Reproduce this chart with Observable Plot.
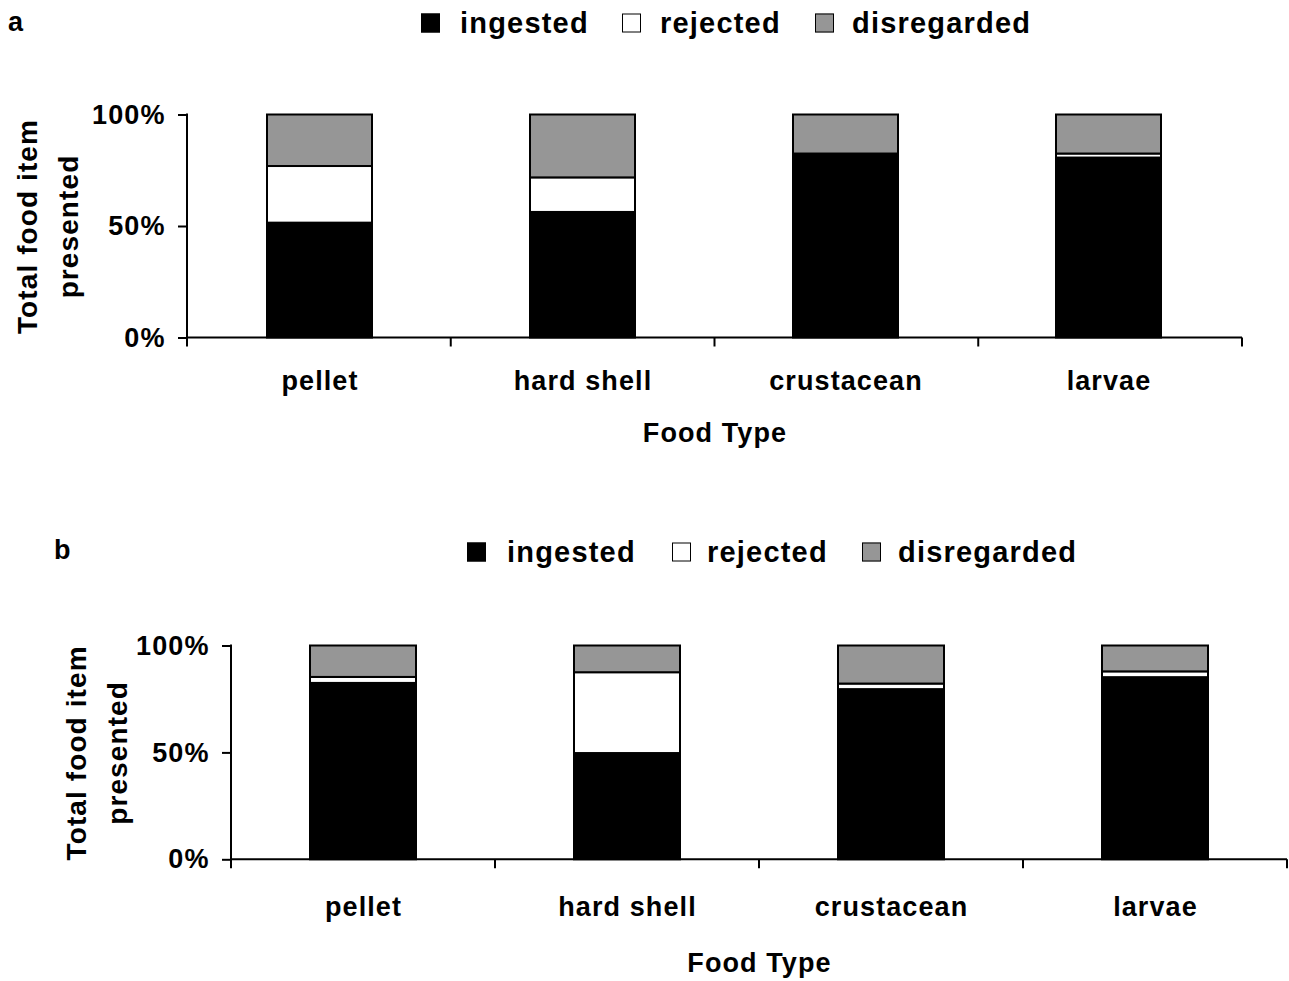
<!DOCTYPE html>
<html>
<head>
<meta charset="utf-8">
<script src="https://cdn.jsdelivr.net/npm/d3@7"></script>
<script src="https://cdn.jsdelivr.net/npm/@observablehq/plot@0.6"></script>
<style>
  html, body { margin: 0; padding: 0; background: #fff; }
  #root { position: relative; width: 1289px; height: 981px; background: #fff; overflow: hidden;
          font-family: "Liberation Sans", Arial, sans-serif; font-weight: bold; color: #000; }
  .panel { position: absolute; left: 0; }
  .panel svg text { letter-spacing: 1.1px; }
  .lg-sw { position: absolute; width: 19px; height: 19px; box-sizing: border-box; border: 1.5px solid #000; transform: translateY(-50%); }
  .lg-tx { position: absolute; font-size: 29px; letter-spacing: 1.2px; line-height: 1; transform: translateY(-50%); white-space: nowrap; }
  .plabel { position: absolute; font-size: 27px; line-height: 1; transform: translateY(-50%); }
</style>
</head>
<body>
<div id="root"></div>
<script>
// ---- Data ----
const categories = ["pellet", "hard shell", "crustacean", "larvae"];
const types = ["ingested", "rejected", "disregarded"];
const typeColors = ["#000000", "#ffffff", "#969696"];
const yTicks = [0, 50, 100];

// Panel a (percent of total food items presented)
const aIngested    = [51.5, 56.3, 82.5, 80.7];
const aRejected    = [25.4, 15.5, 0.0, 1.8];
const aDisregarded = [23.1, 28.2, 17.5, 17.5];

// Panel b
const bIngested    = [82.5, 49.7, 79.6, 85.2];
const bRejected    = [2.8, 37.8, 2.6, 2.7];
const bDisregarded = [14.7, 12.5, 17.8, 12.1];

const xLabel = "Food Type";
const yLabel = "Total food item\npresented";

function toLong(ing, rej, dis) {
  const rows = [];
  categories.forEach((c, i) => {
    rows.push({food: c, type: types[0], value: ing[i]});
    rows.push({food: c, type: types[1], value: rej[i]});
    rows.push({food: c, type: types[2], value: dis[i]});
  });
  return rows;
}

// Axis lines and boundary ticks (Excel style), computed from the plot's scales
function axisFrame(index, scales, values, dimensions) {
  const {width, marginLeft, marginRight} = dimensions;
  const x0 = marginLeft, x1 = width - marginRight;
  const yb = scales.y(0), yt = scales.y(100);
  const n = scales.x.domain().length;
  const g = d3.create("svg:g").attr("stroke", "#000").attr("stroke-width", 2).attr("fill", "none");
  g.append("line").attr("x1", x0).attr("x2", x0).attr("y1", yt - 1).attr("y2", yb + 1);
  g.append("line").attr("x1", x0).attr("x2", x1).attr("y1", yb).attr("y2", yb);
  for (let i = 0; i <= n; i++) {
    const xx = x0 + i * (x1 - x0) / n;
    g.append("line").attr("x1", xx).attr("x2", xx).attr("y1", yb).attr("y2", yb + 9);
  }
  return g.node();
}

function panel(cfg) {
  const data = toLong(cfg.ing, cfg.rej, cfg.dis);
  return Plot.plot({
    width: 1289,
    height: cfg.height,
    marginLeft: cfg.ml,
    marginRight: cfg.mr,
    marginTop: cfg.mt,
    marginBottom: cfg.mb,
    style: {fontFamily: "'Liberation Sans', Arial, sans-serif", fontWeight: "bold", fontSize: "27px", color: "#000", background: "transparent", overflow: "visible"},
    x: {domain: categories, paddingInner: 0.6, paddingOuter: 0.3, label: null},
    y: {domain: [0, 100], label: null},
    color: {domain: types, range: typeColors, legend: false},
    marks: [
      Plot.barY(data, {x: "food", y: "value", fill: "type", order: types, stroke: "#000", strokeWidth: 2}),
      axisFrame,
      Plot.axisY({ticks: yTicks, tickFormat: d => d + "%", tickSize: 9, tickPadding: 13, strokeWidth: 2, label: null, fontSize: 27}),
      Plot.axisX({tickSize: 0, tickPadding: cfg.xpad, label: null, fontSize: 27}),
      Plot.text([xLabel], {frameAnchor: "bottom", dy: cfg.xlabDy, lineAnchor: "middle", textAnchor: "middle", fontSize: 27, fontWeight: "bold"}),
      Plot.text([yLabel], {frameAnchor: "left", dx: cfg.ylabDx, rotate: -90, textAnchor: "middle", lineAnchor: "middle", lineHeight: 1.46, fontSize: 28, fontWeight: "bold"})
    ]
  });
}

const root = document.getElementById("root");

function addPanel(top, cfg) {
  const wrap = document.createElement("div");
  wrap.className = "panel";
  wrap.style.top = top + "px";
  wrap.appendChild(panel(cfg));
  root.appendChild(wrap);
}

function addLegend(cy, swLefts, txLefts) {
  types.forEach((t, i) => {
    const sw = document.createElement("div");
    sw.className = "lg-sw";
    sw.style.left = swLefts[i] + "px";
    sw.style.top = cy + "px";
    sw.style.background = typeColors[i];
    root.appendChild(sw);
    const tx = document.createElement("div");
    tx.className = "lg-tx";
    tx.style.left = txLefts[i] + "px";
    tx.style.top = cy + "px";
    tx.textContent = t;
    root.appendChild(tx);
  });
}

function addLabel(text, left, cy) {
  const el = document.createElement("div");
  el.className = "plabel";
  el.style.left = left + "px";
  el.style.top = cy + "px";
  el.textContent = text;
  root.appendChild(el);
}

// Panel a
addPanel(0, {ing: aIngested, rej: aRejected, dis: aDisregarded,
  height: 470, ml: 187, mr: 47, mt: 114.5, mb: 132.5, xpad: 33, xlabDy: 95.5, ylabDx: -143});
addLegend(23, [421, 622, 815], [460, 660, 852]);
addLabel("a", 8, 22);

// Panel b
addPanel(470, {ing: bIngested, rej: bRejected, dis: bDisregarded,
  height: 511, ml: 231, mr: 2, mt: 175.5, mb: 121.7, xpad: 37, xlabDy: 103.7, ylabDx: -138});
addLegend(552, [467, 672, 862], [507, 707, 898]);
addLabel("b", 54, 550);
</script>
</body>
</html>
